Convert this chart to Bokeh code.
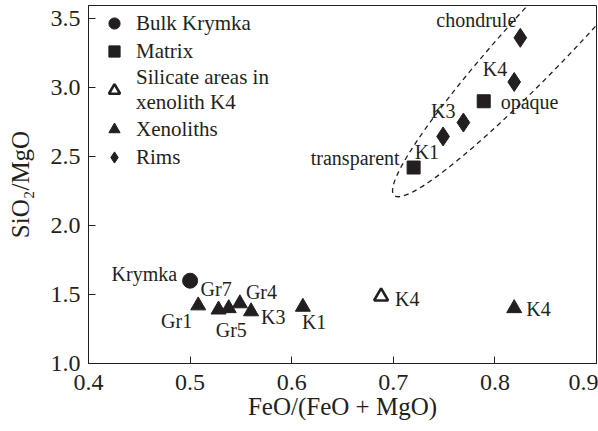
from bokeh.plotting import figure
from bokeh.models import Range1d, Legend, LegendItem, ColumnDataSource, FixedTicker, PrintfTickFormatter
from bokeh.core.properties import value
from bokeh.embed import file_html
from bokeh.resources import INLINE
import math

# ---- data ----
bulk_x = [0.50]
bulk_y = [1.60]
bulk_labels = ["Krymka"]

matrix_x = [0.72, 0.789]
matrix_y = [2.42, 2.90]
matrix_labels = ["transparent", "opaque"]

silicate_x = [0.688]
silicate_y = [1.486]
silicate_labels = ["K4"]

xeno_x = [0.508, 0.528, 0.538, 0.549, 0.560, 0.611, 0.819]
xeno_y = [1.42, 1.39, 1.40, 1.435, 1.377, 1.41, 1.40]
xeno_labels = ["Gr1", "Gr7", "Gr5", "Gr4", "K3", "K1", "K4"]

rims_x = [0.749, 0.769, 0.819, 0.825]
rims_y = [2.645, 2.746, 3.04, 3.36]
rims_labels = ["K1", "K3", "K4", "chondrule"]

x_ticks = [0.4, 0.5, 0.6, 0.7, 0.8, 0.9]
y_ticks = [1.0, 1.5, 2.0, 2.5, 3.0, 3.5]

# dashed ellipse (centre in data units, size in screen px)
ell_x = [0.862]
ell_y = [3.49]

# ---- styles ----
INK = "#231f20"
FONT = "'Liberation Serif', 'Times New Roman', serif"

# label offsets (screen px): align, dx, dy
bulk_style = [("right", -13, -7)]
matrix_style = [("right", -14, -10), ("left", 17, 1)]
silicate_style = [("left", 14, 3)]
xeno_style = [("right", -6, 15), ("left", -18, -21), ("left", -13, 22),
              ("left", 6, -11), ("left", 10, 6), ("left", -1, 15), ("left", 12, 1)]
rims_style = [("right", -4, 16), ("right", -8, -12), ("right", -7, -13), ("right", -4, -18)]

p = figure(width=598, height=431,
           x_range=Range1d(0.4, 0.9), y_range=Range1d(1.0, 3.594),
           output_backend="svg", toolbar_location=None,
           min_border_left=88, min_border_right=2, min_border_top=5, min_border_bottom=68)
p.grid.visible = False
p.outline_line_color = INK
p.outline_line_width = 1
p.background_fill_color = "white"
p.border_fill_color = "white"

for ax in (p.xaxis, p.yaxis):
    ax.axis_line_color = INK
    ax.major_tick_line_color = INK
    ax.major_tick_in = 7
    ax.major_tick_out = 0
    ax.minor_tick_line_color = None
    ax.major_label_text_font = FONT
    ax.major_label_text_font_size = "24px"
    ax.major_label_text_color = INK
    ax.axis_label_text_font = FONT
    ax.axis_label_text_font_size = "25px"
    ax.axis_label_text_font_style = "normal"
    ax.axis_label_text_color = INK
    ax.formatter = PrintfTickFormatter(format="%.1f")

p.xaxis.ticker = FixedTicker(ticks=x_ticks)
p.yaxis.ticker = FixedTicker(ticks=y_ticks)
p.xaxis.major_label_standoff = 11
p.yaxis.major_label_standoff = 8
p.xaxis.axis_label = "FeO/(FeO + MgO)"
p.yaxis.axis_label = "SiO\u2082/MgO"
p.xaxis.axis_label_standoff = 0
p.yaxis.axis_label_standoff = 14

# ellipse
p.ellipse(x=ell_x, y=ell_y, width=480, height=64, width_units="screen",
          height_units="screen", angle=math.radians(47), fill_color=None,
          line_color=INK, line_width=1.3, line_dash="5 4")

r_bulk = p.scatter(bulk_x, bulk_y, marker="circle", size=15, fill_color=INK, line_color=INK)
r_matrix = p.scatter(matrix_x, matrix_y, marker="square", size=13, fill_color=INK, line_color=INK)
r_sil = p.scatter(silicate_x, silicate_y, marker="triangle", size=14, fill_color="white",
                  line_color=INK, line_width=2.6)
r_xeno = p.scatter(xeno_x, xeno_y, marker="triangle", size=15, fill_color=INK, line_color=INK)
r_rims = p.scatter(rims_x, rims_y, marker="diamond", size=19, fill_color=INK, line_color=INK)

# labels
lx, ly, lt, la, ldx, ldy = [], [], [], [], [], []
for xs, ys, ts, st in [(bulk_x, bulk_y, bulk_labels, bulk_style),
                       (matrix_x, matrix_y, matrix_labels, matrix_style),
                       (silicate_x, silicate_y, silicate_labels, silicate_style),
                       (xeno_x, xeno_y, xeno_labels, xeno_style),
                       (rims_x, rims_y, rims_labels, rims_style)]:
    for xv, yv, tv, (a, dx, dy) in zip(xs, ys, ts, st):
        lx.append(xv); ly.append(yv); lt.append(tv)
        la.append(a); ldx.append(dx); ldy.append(dy)
src = ColumnDataSource(dict(x=lx, y=ly, text=lt, align=la, dx=ldx, dy=ldy))
p.text(x="x", y="y", text="text", source=src, text_align="align", x_offset="dx",
       y_offset="dy", text_baseline="middle", text_font=value(FONT),
       text_font_size="20px", text_color=INK)

legend = Legend(items=[
    LegendItem(label="Bulk Krymka", renderers=[r_bulk]),
    LegendItem(label="Matrix", renderers=[r_matrix]),
    LegendItem(label="Silicate areas in\nxenolith K4", renderers=[r_sil]),
    LegendItem(label="Xenoliths", renderers=[r_xeno]),
    LegendItem(label="Rims", renderers=[r_rims]),
], location="top_left")
legend.border_line_color = None
legend.background_fill_alpha = 0
legend.label_text_font = FONT
legend.label_text_font_size = "21px"
legend.label_text_color = INK
legend.label_text_line_height = 0.8
legend.glyph_width = 44
legend.glyph_height = 28
legend.label_height = 20
legend.label_standoff = -16
legend.spacing = 0
legend.margin = 4
legend.padding = 11
p.add_layout(legend)

open("out.html", "w").write(file_html(p, INLINE))
